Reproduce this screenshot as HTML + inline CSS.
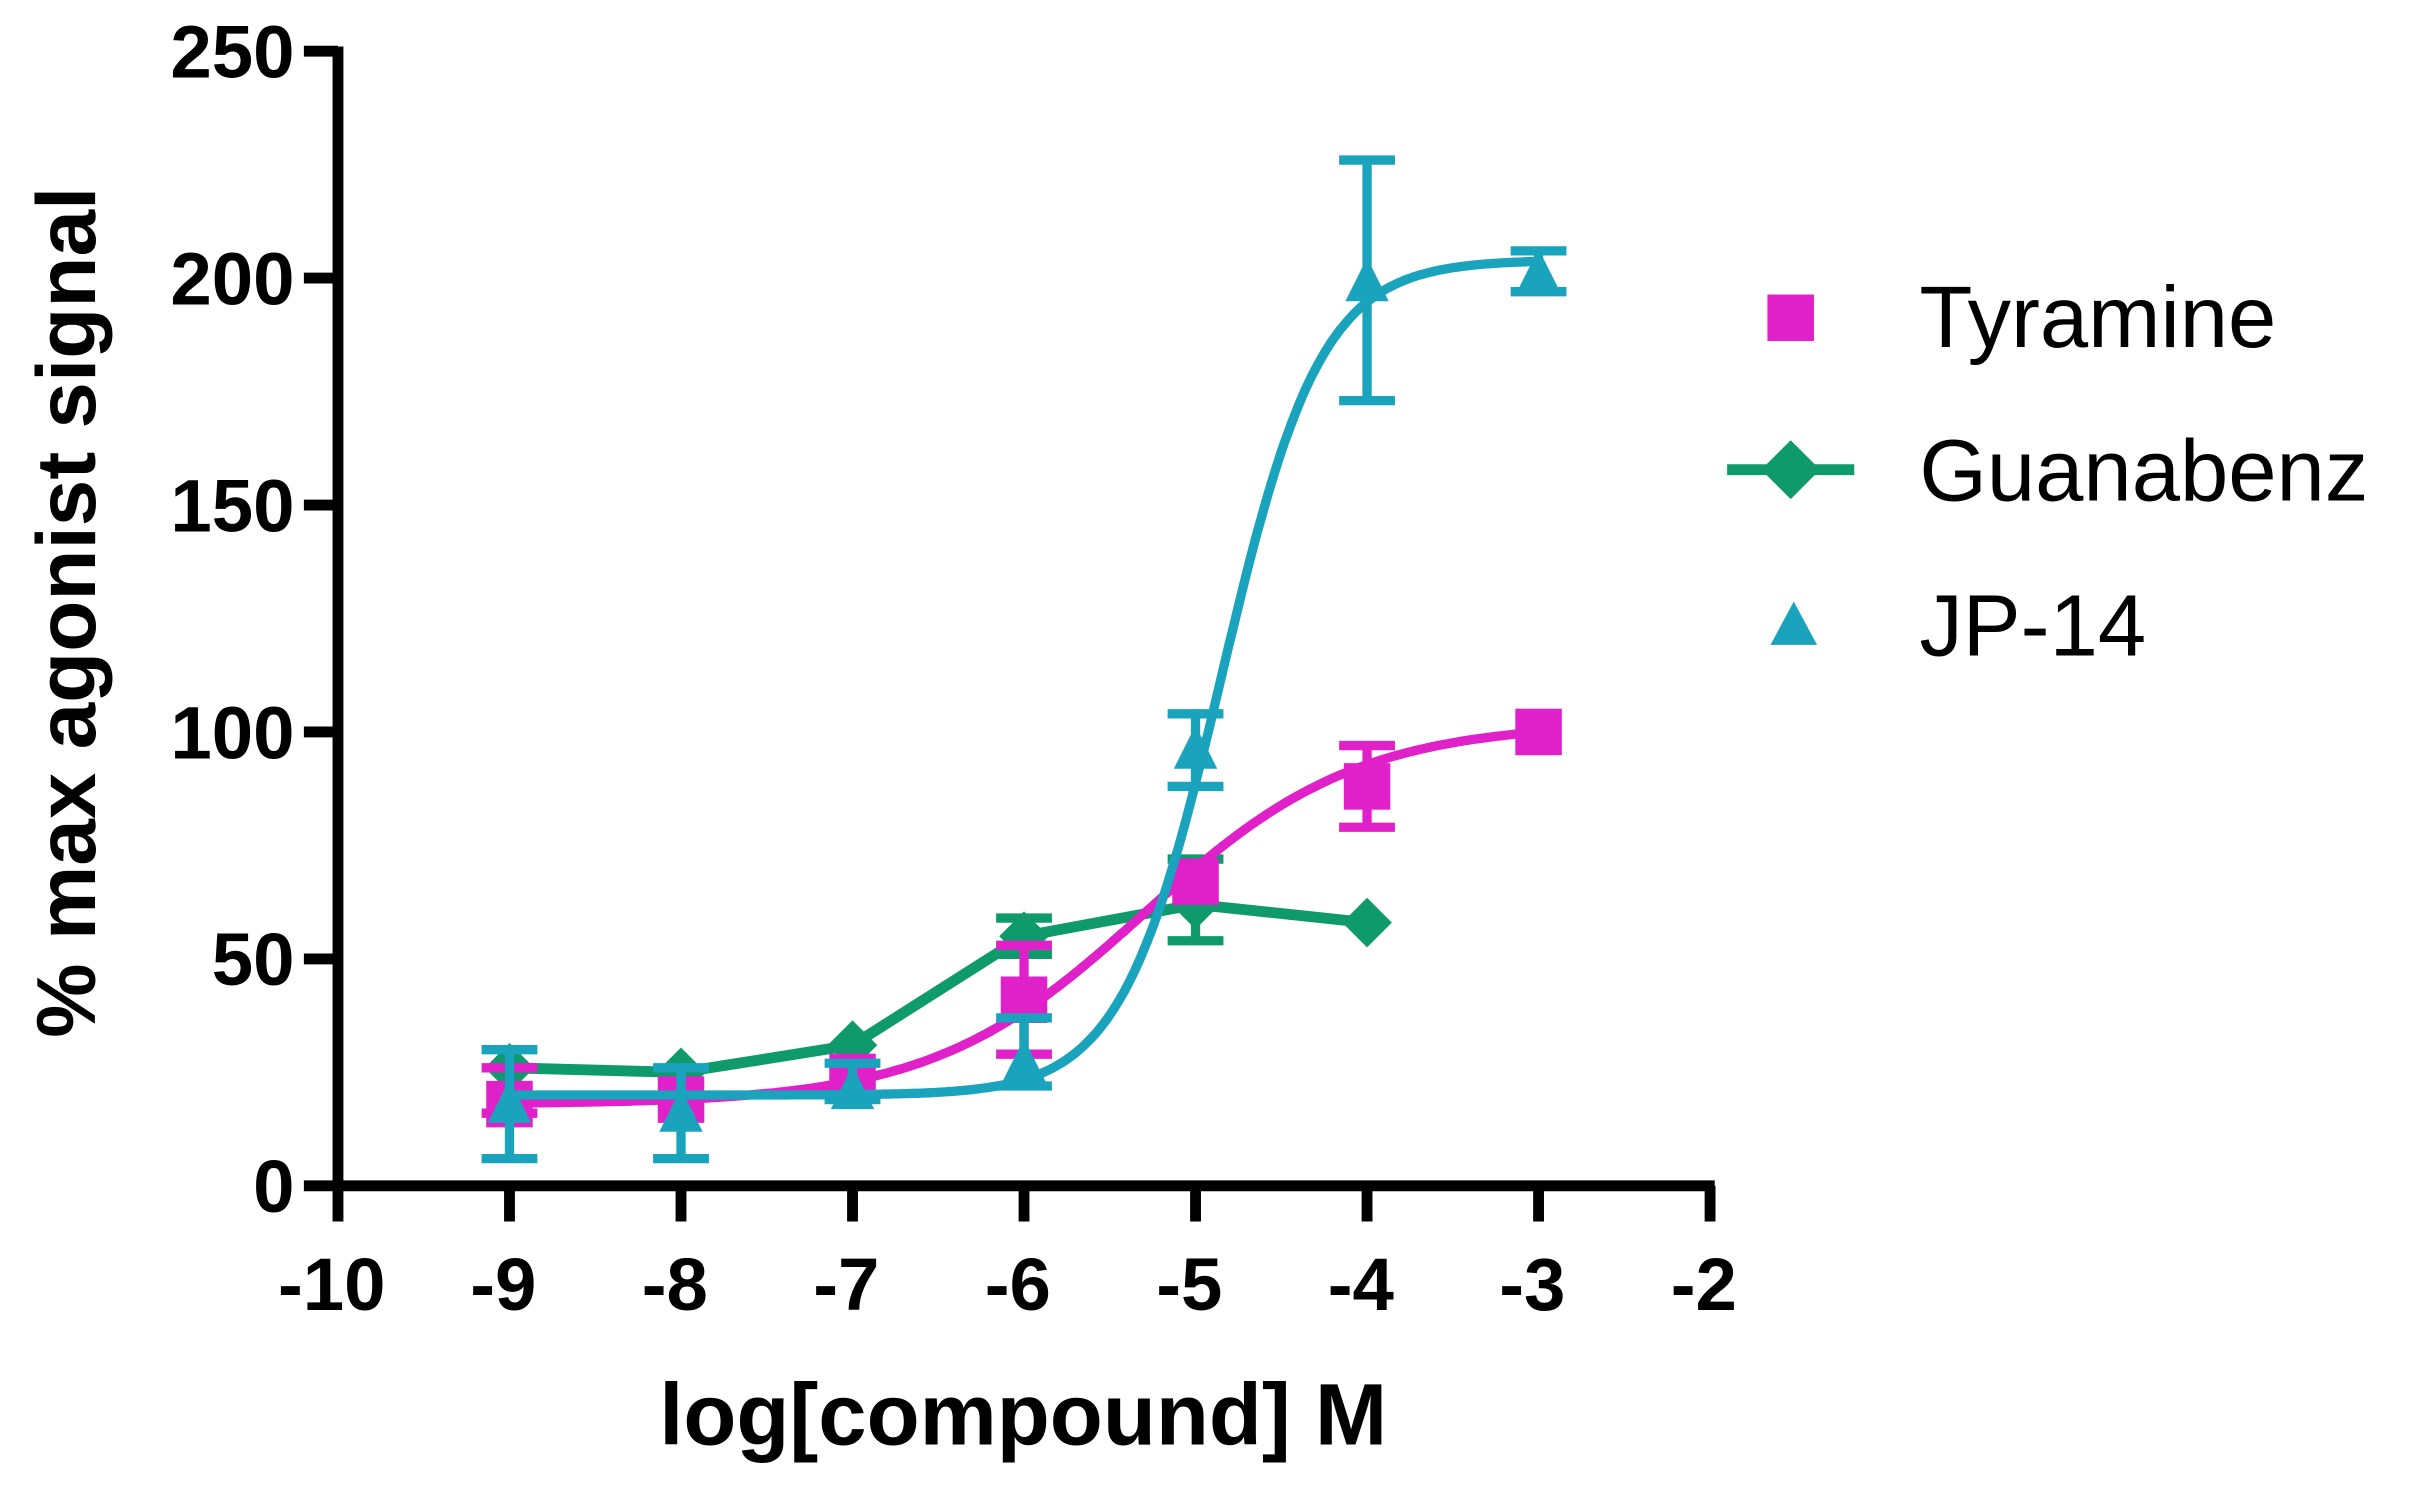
<!DOCTYPE html>
<html><head><meta charset="utf-8"><style>html,body{margin:0;padding:0;background:#fff}svg{display:block}</style></head>
<body>
<svg id="s" width="2431" height="1485" viewBox="0 0 1568 958" preserveAspectRatio="none" xmlns="http://www.w3.org/2000/svg" font-family="Liberation Sans, sans-serif">
<g id="g"></g>
<text x="47" y="395" transform="rotate(-90 47 395)" text-anchor="middle" font-size="54" font-weight="bold" dominant-baseline="middle">% max agonist signal</text>
<text x="660" y="932" text-anchor="middle" font-size="56" font-weight="bold">log[compound] M</text>
<rect x="1140" y="190" width="30" height="30" fill="#e020c8"/>
<text x="1238" y="224" font-size="56">Tyramine</text>
<line x1="1114" y1="303" x2="1196" y2="303" stroke="#0e9a6a" stroke-width="7"/>
<polygon points="1155,284 1174,303 1155,322 1136,303" fill="#0e9a6a"/>
<text x="1238" y="323" font-size="56">Guanabenz</text>
<polygon points="1157,388 1172,416 1142,416" fill="#1aa3bd"/>
<text x="1238" y="423" font-size="56">JP-14</text>
</svg>
<script>
var NS="http://www.w3.org/2000/svg",g=document.getElementById("g");
function X(v){return 218+(v+10)*110.625}function Y(v){return 765-v*2.928}
function el(t,a){var e=document.createElementNS(NS,t);for(var k in a)e.setAttribute(k,a[k]);g.appendChild(e);return e}
el("line",{x1:218,y1:30,x2:218,y2:768,stroke:"#000","stroke-width":7});
el("line",{x1:215,y1:765,x2:1106,y2:765,stroke:"#000","stroke-width":7});
for(var v=0;v<=250;v+=50){el("line",{x1:196,y1:Y(v),x2:218,y2:Y(v),stroke:"#000","stroke-width":7});
 var t=el("text",{x:190,y:Y(v)+17,"text-anchor":"end","font-size":48,"font-weight":"bold"});t.textContent=v;}
for(var v=-10;v<=-2;v++){el("line",{x1:X(v),y1:765,x2:X(v),y2:788,stroke:"#000","stroke-width":7});
 var t=el("text",{x:X(v)-4,y:845,"text-anchor":"middle","font-size":48,"font-weight":"bold"});t.textContent=v;}
function curve(b,tp,ec,h,x0,x1,col){var d="";for(var x=x0;x<=x1+1e-9;x+=0.02){var y=b+(tp-b)/(1+Math.pow(10,(ec-x)*h));d+=(d?"L":"M")+X(x).toFixed(1)+","+Y(y).toFixed(1)}el("path",{d:d,fill:"none",stroke:col,"stroke-width":6})}
function err(x,lo,hi,col){el("line",{x1:X(x),y1:Y(lo),x2:X(x),y2:Y(hi),stroke:col,"stroke-width":6});
 [lo,hi].forEach(function(v){el("line",{x1:X(x)-18,y1:Y(v),x2:X(x)+18,y2:Y(v),stroke:col,"stroke-width":6})})}
var M="#e020c8",G="#0e9a6a",C="#1aa3bd";
var gd=[[-9,26],[-8,25],[-7,31],[-6,55,51,59],[-5,62,54,72],[-4,58]];
el("polyline",{points:gd.map(function(p){return X(p[0])+","+Y(p[1])}).join(" "),fill:"none",stroke:G,"stroke-width":7});
gd.forEach(function(p){if(p[2])err(p[0],p[2],p[3],G);el("polygon",{points:[X(p[0]),Y(p[1])-16,X(p[0])+16,Y(p[1]),X(p[0]),Y(p[1])+16,X(p[0])-16,Y(p[1])].join(","),fill:G})});
curve(18,102,-5.3,0.7,-9,-3,M);
var td=[[-9,18,16,26],[-8,19],[-7,24],[-6,41,29,53],[-5,67],[-4,88,79,97],[-3,100]];
td.forEach(function(p){if(p[2])err(p[0],p[2],p[3],M);el("rect",{x:X(p[0])-15,y:Y(p[1])-15,width:30,height:30,fill:M})});
curve(20,204,-4.85,1.5,-9,-3,C);
var jd=[[-9,18,6,30],[-8,16,6,26],[-7,21,19,27],[-6,27,22,37],[-5,96,88,104],[-4,199,173,226],[-3,201,197,206]];
jd.forEach(function(p){err(p[0],p[2],p[3],C);var x=X(p[0]),y=Y(p[1]);el("polygon",{points:[x,y-16,x+14,y+12,x-14,y+12].join(","),fill:C})});
</script>
</body></html>
